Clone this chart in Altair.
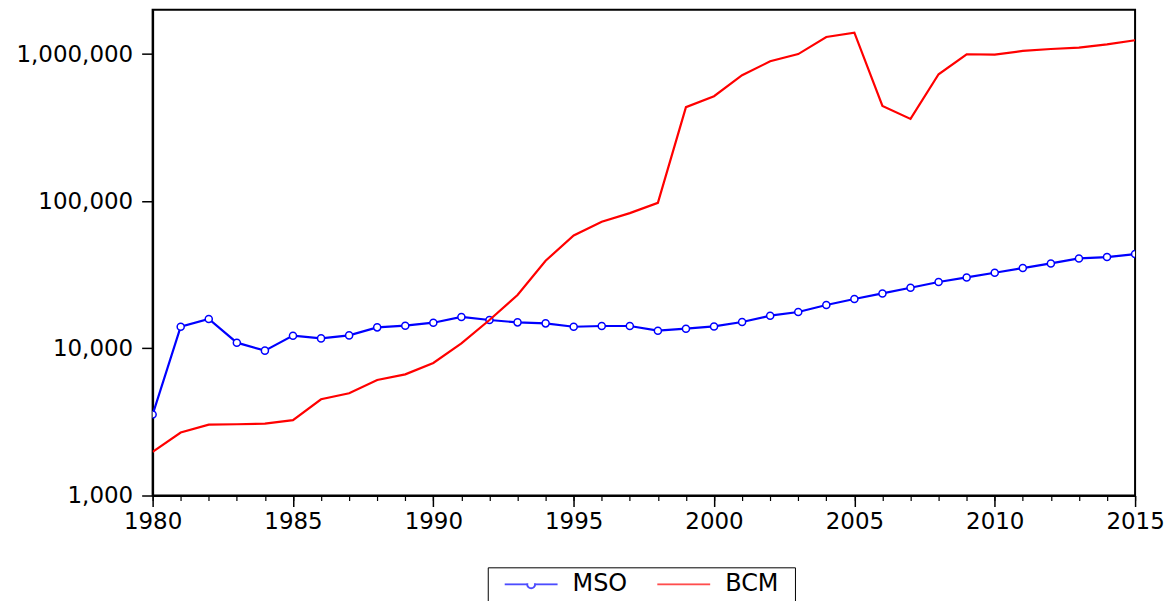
import altair as alt
import pandas as pd

years = [1980, 1981, 1982, 1983, 1984, 1985, 1986, 1987, 1988, 1989,
         1990, 1991, 1992, 1993, 1994, 1995, 1996, 1997, 1998, 1999,
         2000, 2001, 2002, 2003, 2004, 2005, 2006, 2007, 2008, 2009,
         2010, 2011, 2012, 2013, 2014, 2015]
mso = [3550, 14030, 15850, 10930, 9650, 12200, 11690, 12250, 13890, 14260,
       14940, 16340, 15590, 15020, 14790, 14030, 14190, 14190, 13190, 13610,
       14100, 15110, 16670, 17660, 19710, 21640, 23620, 25830, 28230, 30340,
       32650, 35140, 37770, 40830, 41740, 43750]
bcm = [1980, 2680, 3030, 3050, 3080, 3250, 4510, 4950, 6100, 6660,
       7960, 10810, 15590, 23040, 39390, 58480, 72450, 83000, 97500, 435500,
       517000, 718000, 893000, 1000000, 1306000, 1397000, 444500, 362500, 729000, 997000,
       990000, 1050000, 1083000, 1105000, 1165000, 1241000]
series_names = ["MSO", "BCM"]
series_colors = ["#0000ff", "#ff0000"]
y_ticks = [1000, 10000, 100000, 1000000]
x_major = [1980, 1985, 1990, 1995, 2000, 2005, 2010, 2015]

df = pd.DataFrame({"year": years, "MSO": mso, "BCM": bcm})
long = df.melt("year", var_name="series", value_name="value")

FONT = "DejaVu Sans"
xscale = alt.Scale(domain=[1980, 2015], nice=False, zero=False)
yscale = alt.Scale(type="log", domain=[1000, 2000000], nice=False)

yaxis = alt.Axis(values=y_ticks, format=",d", grid=False, tickSize=11, labelPadding=9,
                 labelFontSize=23, labelFont=FONT, labelColor="black", tickColor="black",
                 domainColor="black", domainWidth=2, tickWidth=1.5, title=None)
xaxis_major = alt.Axis(values=x_major, format="d", orient="bottom", grid=False, tickSize=11,
                       labelPadding=4, labelFontSize=23, labelFont=FONT, labelColor="black",
                       tickColor="black", domainColor="black", domainWidth=2, tickWidth=1.5,
                       labelFlush=False, labelOverlap=False, title=None)
xaxis_minor = alt.Axis(values=years, orient="bottom", labels=False, domain=False, grid=False,
                       tickSize=5, tickColor="black", tickWidth=1.2, title=None)

path_mso = "M-1,0H-0.15M0.15,0H1M-0.15,0A0.15,0.15,0,1,1,0.15,0A0.15,0.15,0,1,1,-0.15,0"
path_bcm = "M-1,0H1"

leg = alt.Legend(title=None, orient="none", legendX=336, legendY=559, direction="horizontal",
                 strokeColor="black", padding=16, clipHeight=2, symbolSize=2809,
                 symbolStrokeWidth=2, labelFontSize=24, labelFont=FONT, labelColor="black",
                 labelOffset=14, columnPadding=29, fillColor="white")

base = alt.Chart(long)

mso_line = base.transform_filter("datum.series == 'MSO'").mark_line(
    color="#0000ff", strokeWidth=2.2, clip=True
).encode(
    x=alt.X("year:Q", scale=xscale, axis=xaxis_major),
    y=alt.Y("value:Q", scale=yscale, axis=yaxis),
)
mso_pts = base.transform_filter("datum.series == 'MSO'").mark_point(
    shape="circle", filled=True, fill="white", stroke="#0000ff", strokeWidth=1.5,
    size=50, opacity=1, clip=True
).encode(
    x=alt.X("year:Q", scale=xscale, axis=xaxis_minor),
    y=alt.Y("value:Q", scale=yscale, axis=yaxis),
)
bcm_line = base.transform_filter("datum.series == 'BCM'").mark_line(
    color="#ff0000", strokeWidth=2.2, clip=True
).encode(
    x=alt.X("year:Q", scale=xscale, axis=None),
    y=alt.Y("value:Q", scale=yscale, axis=yaxis),
)
legend_layer = base.transform_filter("false").mark_point(
    size=2809, filled=False, strokeWidth=2
).encode(
    x=alt.X("year:Q", scale=xscale, axis=None),
    y=alt.Y("value:Q", scale=yscale, axis=yaxis),
    color=alt.Color("series:N", scale=alt.Scale(domain=series_names, range=series_colors), legend=leg),
    shape=alt.Shape("series:N", scale=alt.Scale(domain=series_names, range=[path_mso, path_bcm]), legend=leg),
)

chart = alt.layer(mso_line, mso_pts, bcm_line, legend_layer).resolve_axis(
    x="independent"
).properties(
    width=985, height=487,
    autosize=alt.AutoSizeParams(type="none"),
    padding={"left": 145, "top": 1, "right": 30, "bottom": 110},
    background="white",
).configure_view(stroke="black", strokeWidth=2)

chart.save("out.html", embed_options={"renderer": "svg", "actions": False})
